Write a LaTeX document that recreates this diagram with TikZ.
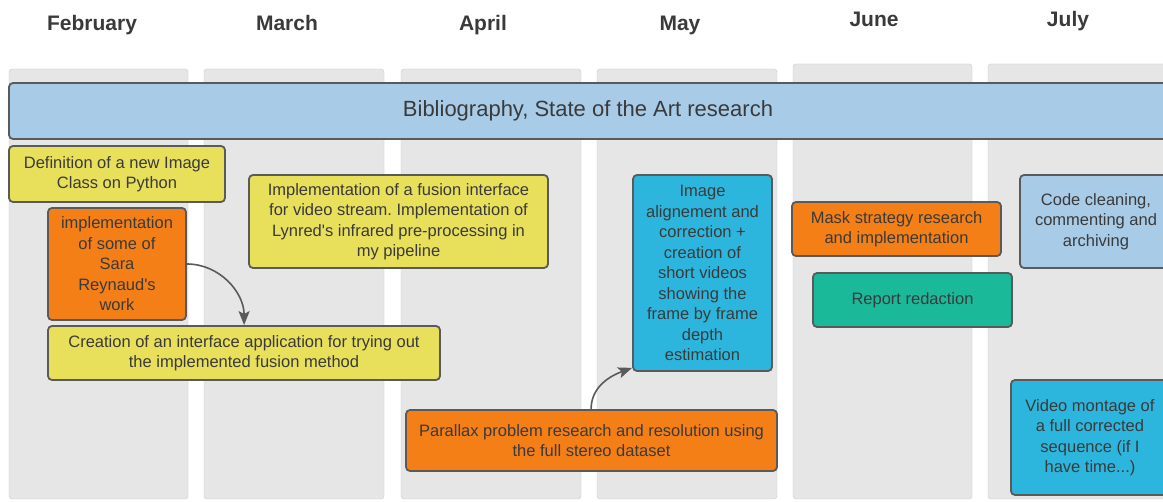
\documentclass[tikz,border=0pt]{standalone}
\usepackage{fontspec}
\setmainfont{Liberation Sans}
\usetikzlibrary{arrows.meta}
\definecolor{txt}{HTML}{3A3A3A}
\definecolor{colgray}{HTML}{E6E6E6}
\definecolor{colline}{HTML}{CACACA}
\definecolor{boxline}{HTML}{5A5A5A}
\definecolor{barblue}{HTML}{A8CBE8}
\definecolor{yellowbox}{HTML}{E8E05A}
\definecolor{orangebox}{HTML}{F57F17}
\definecolor{cyanbox}{HTML}{2DB6DD}
\definecolor{tealbox}{HTML}{19B99A}
\frenchspacing
\begin{document}
\begin{tikzpicture}[x=1pt,y=-1pt,
  month/.style={anchor=base,font=\fontsize{21}{25}\selectfont\bfseries,text=txt},
  col/.style={fill=colgray,draw=colline,rounded corners=3pt},
  task/.style={draw=boxline,line width=1.8pt,rounded corners=4pt,align=center,inner sep=2pt,font=\fontsize{16.5}{20.5}\selectfont,text=txt},
  link/.style={-{Stealth[length=14pt,width=11pt,inset=3pt]},line width=1.6pt,draw=boxline}]
\useasboundingbox[fill=white](0,0)rectangle(1163,502);
%months
\node[month](feb) at (92,31){February};
\node[month](mar) at (287,31){March};
\node[month](apr) at (483,31){April};
\node[month](may) at (680,31){May};
\node[month](jun) at (874,27){June};
\node[month](jul) at (1068,27){July};
%columns
\draw[col](9,69)rectangle(188,499);
\draw[col](204,69)rectangle(384,499);
\draw[col](401,69)rectangle(581,499);
\draw[col](597,69)rectangle(777,499);
\draw[col](793,64)rectangle(972,499);
\draw[col](988,64)rectangle(1168,499);
%tasks
\node[task,fill=barblue,minimum width=1158,minimum height=56,font=\fontsize{22}{26}\selectfont](biblio) at (588,111){Bibliography, State of the Art research};
\node[task,fill=yellowbox,minimum width=216,minimum height=56](imgclass) at (117,174){Definition of a new Image\\Class on Python};
\node[task,fill=orangebox,minimum width=138,minimum height=112](sara) at (117,264){implementation\\of some of\\Sara\\Reynaud\textquotesingle s\\work};
\node[task,fill=yellowbox,minimum width=299,minimum height=93](fusion) at (398.5,221.5){Implementation of a fusion interface\\for video stream. Implementation of\\Lynred\textquotesingle s infrared pre-processing in\\my pipeline};
\node[task,fill=yellowbox,minimum width=392,minimum height=54](creation) at (244,353){Creation of an interface application for trying out\\the implemented fusion method};
\node[task,fill=cyanbox,minimum width=139,minimum height=196](align) at (702.5,273){Image\\alignement and\\correction +\\creation of\\short videos\\showing the\\frame by frame\\depth\\estimation};
\node[task,fill=orangebox,minimum width=371,minimum height=61](parallax) at (591.5,440.5){Parallax problem research and resolution using\\the full stereo dataset};
\node[task,fill=orangebox,minimum width=209,minimum height=54](mask) at (896.5,229){Mask strategy research\\and implementation};
\node[task,fill=tealbox,minimum width=199,minimum height=54](report) at (912.5,300){Report redaction};
\node[task,fill=barblue,minimum width=152,minimum height=93](clean) at (1096,221.5){Code cleaning,\\commenting and\\archiving};
\node[task,fill=cyanbox,minimum width=158,minimum height=115](montage) at (1090,437.5){Video montage of\\a full corrected\\sequence (if I\\have time...)};
%links
\draw[link](sara.east)to[out=0,in=90]([xshift=197pt]creation.north west);
\draw[link]([xshift=186pt]parallax.north west)to[out=90,in=200]([yshift=4pt]align.south west);
\end{tikzpicture}
\end{document}
